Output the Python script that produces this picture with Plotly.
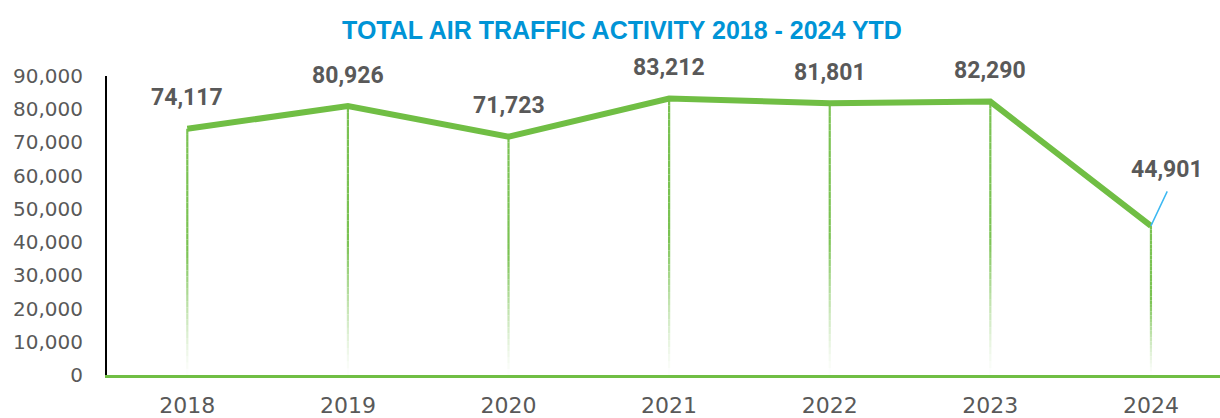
import plotly.graph_objects as go

years = ["2018", "2019", "2020", "2021", "2022", "2023", "2024"]
values = [74117, 80926, 71723, 83212, 81801, 82290, 44901]
y_ticks = [0, 10000, 20000, 30000, 40000, 50000, 60000, 70000, 80000, 90000]
title_text = "TOTAL AIR TRAFFIC ACTIVITY 2018 - 2024 YTD"

DROP = (122, 194, 82)
fig = go.Figure()

# gradient drop lines (fade to white towards the axis)
N = 40
for k in range(N):
    f0, f1 = k / N, (k + 1) / N
    a = min(1.0, ((f0 + f1) / 2) / 0.5) ** 1.2
    col = "rgb(%d,%d,%d)" % tuple(round(255 * (1 - a) + c * a) for c in DROP)
    xs, ys = [], []
    for i, v in enumerate(values):
        xs += [i, i, None]
        ys += [v * f0, v * f1, None]
    fig.add_trace(go.Scatter(x=xs, y=ys, mode="lines", line=dict(color=col, width=2.2),
                             hoverinfo="skip", showlegend=False))

fig.add_trace(go.Scatter(x=list(range(len(years))), y=values, mode="lines",
                         line=dict(color="rgb(112,190,68)", width=6), showlegend=False))

label_font = dict(family="Roboto", size=23, color="#595959", weight="bold")
for i, v in enumerate(values):
    if i < len(values) - 1:
        fig.add_annotation(x=i, y=v, text=f"{v:,}", showarrow=False, yshift=31,
                           font=label_font)
    else:
        fig.add_annotation(x=i, y=v, text=f"{v:,}", showarrow=False, yshift=56, xshift=16,
                           font=label_font)
        fig.add_annotation(x=i, y=v, text="", showarrow=True, ax=17, ay=-36,
                           arrowhead=0, arrowwidth=1.5, arrowcolor="#3CB8F2",
                           standoff=0, startstandoff=0)

fig.update_layout(
    width=1220, height=418,
    margin=dict(l=107, r=0, t=76, b=43),
    paper_bgcolor="white", plot_bgcolor="white",
    title=dict(text=title_text, x=622 / 1220, xanchor="center", y=1 - 30 / 418,
               yref="container", yanchor="middle",
               font=dict(family="Liberation Sans", size=25, color="#0094D6", weight="bold")),
    xaxis=dict(range=[-0.5, 6.43], showgrid=False, zeroline=False,
               tickvals=list(range(len(years))), ticktext=years,
               showline=True, linecolor="rgb(112,190,68)", linewidth=3,
               ticks="", ticklabelstandoff=9,
               tickfont=dict(family="DejaVu Sans", size=22, color="#595959")),
    yaxis=dict(range=[0, 90000], tickvals=y_ticks, tickformat=",", showgrid=False,
               showline=True, linecolor="black", linewidth=2, zeroline=False,
               ticks="", ticklabelstandoff=18,
               tickfont=dict(family="DejaVu Sans", size=20, color="#595959")),
)

fig.write_html("out.html", config={"displayModeBar": False},
               post_script="document.body.style.margin='0';")
